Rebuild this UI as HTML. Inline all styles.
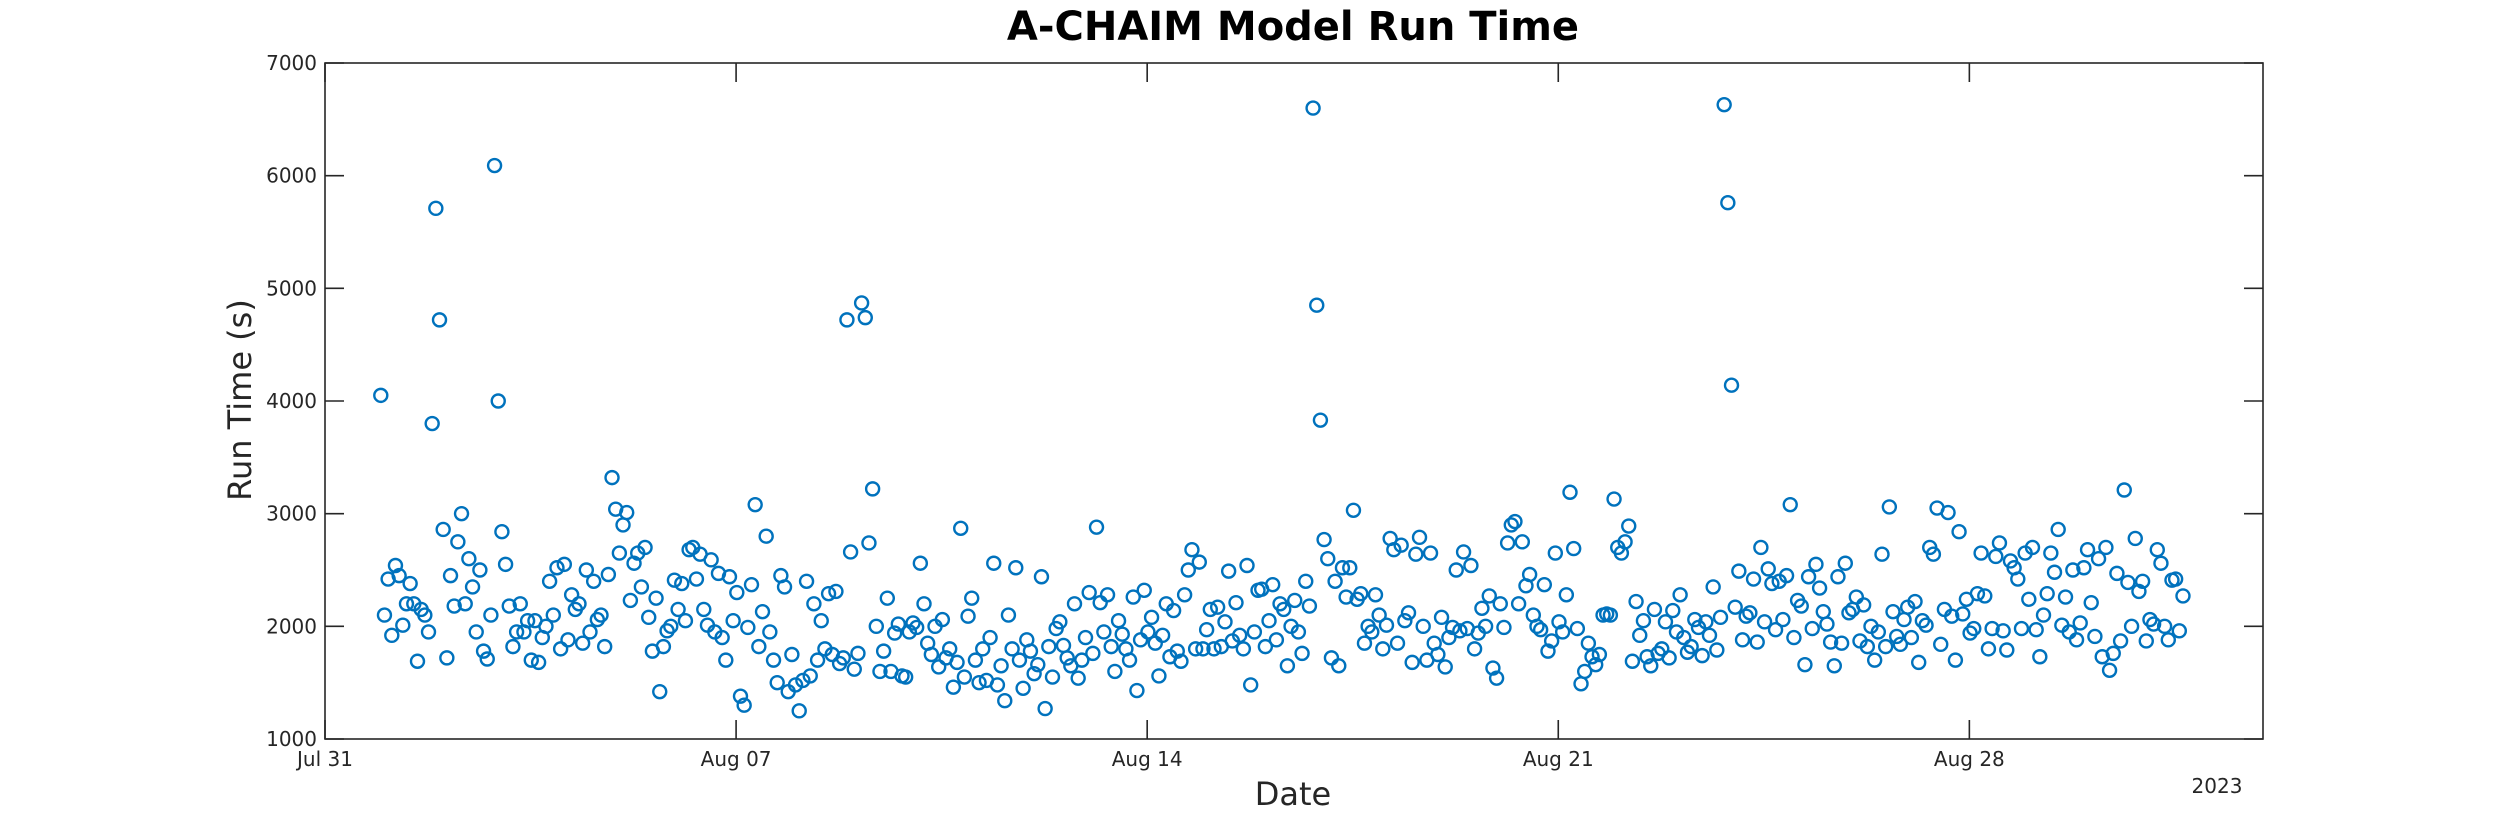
<!DOCTYPE html>
<html><head><meta charset="utf-8"><style>
html,body{margin:0;padding:0;background:#fff}
svg{display:block;font-family:"DejaVu Sans","Liberation Sans",sans-serif}
</style></head><body>
<svg id="chart" width="2500" height="833" viewBox="0 0 2500 833" xmlns="http://www.w3.org/2000/svg">
<rect width="2500" height="833" fill="#fff"/>
<text x="1293" y="40" text-anchor="middle" font-size="40" font-weight="bold" fill="#000">A-CHAIM Model Run Time</text>
<text transform="translate(251,400) rotate(-90)" text-anchor="middle" font-size="32" fill="#262626">Run Time (s)</text>
<text x="1293" y="805" text-anchor="middle" font-size="32" fill="#262626">Date</text>
<text x="2217" y="793" text-anchor="middle" font-size="20" fill="#262626">2023</text>
<g id="axes"></g>
<g id="points"></g>
<rect x="325" y="63" width="1938" height="676" fill="none" stroke="#262626" stroke-width="1.6"/>
</svg>
<script>
const yTicks=[1000,2000,3000,4000,5000,6000,7000];
const xTickDays=[0,7,14,21,28];
const xTickLabels=["Jul 31","Aug 07","Aug 14","Aug 21","Aug 28"];
const startDay=0.95;
const stepDays=0.0625;
const runTimes=[
4050,2100,2420,1920,2540,2450,2010,2200,2380,2200,1690,2150,2100,1950,3800,5710,
4720,2860,1720,2450,2180,2750,3000,2200,2600,2350,1950,2500,1780,1710,2100,6090,
4000,2840,2550,2180,1820,1950,2200,1950,2050,1700,2050,1680,1900,2000,2400,2100,
2520,1800,2550,1880,2280,2150,2200,1850,2500,1950,2400,2060,2100,1820,2460,3320,
3040,2650,2900,3010,2230,2560,2650,2350,2700,2080,1780,2250,1420,1820,1960,2000,
2410,2150,2380,2050,2680,2700,2420,2640,2150,2010,2590,1950,2470,1900,1700,2440,
2050,2300,1380,1300,1990,2370,3080,1820,2130,2800,1950,1700,1500,2450,2350,1420,
1750,1480,1250,1520,2400,1560,2200,1700,2050,1800,2290,1750,2310,1670,1720,4720,
2660,1620,1760,4870,4740,2740,3220,2000,1600,1780,2250,1600,1940,2020,1560,1550,
1950,2030,1990,2560,2200,1850,1750,2000,1640,2060,1720,1800,1460,1680,2870,1550,
2090,2250,1700,1500,1800,1520,1900,2560,1480,1650,1340,2100,1800,2520,1700,1450,
1880,1780,1580,1660,2440,1270,1820,1550,1980,2040,1830,1720,1650,2200,1540,1700,
1900,2300,1760,2880,2210,1950,2280,1820,1600,2050,1930,1800,1700,2260,1430,1880,
2320,1950,2080,1850,1560,1920,2200,1730,2140,1780,1690,2280,2500,2680,1800,2570,
1800,1970,2150,1800,2170,1820,2040,2490,1870,2210,1920,1800,2540,1480,1950,2320,
2330,1820,2050,2370,1880,2200,2150,1650,2000,2230,1950,1760,2400,2180,6600,4850,
3830,2770,2600,1720,2400,1650,2520,2260,2520,3030,2240,2290,1850,2000,1950,2280,
2100,1800,2010,2780,2680,1850,2720,2050,2120,1680,2640,2790,2000,1700,2650,1850,
1750,2080,1640,1900,1990,2500,1960,2660,1980,2540,1800,1940,2160,2000,2270,1630,
1540,2200,1990,2740,2900,2930,2200,2750,2360,2460,2100,2000,1970,2370,1780,1870,
2650,2040,1950,2280,3190,2690,1980,1490,1600,1850,1730,1660,1750,2100,2110,2100,
3130,2700,2650,2750,2890,1690,2220,1920,2050,1730,1650,2150,1760,1800,2040,1720,
2140,1950,2280,1900,1770,1820,2060,1990,1740,2040,1920,2350,1790,2080,6630,5760,
4140,2170,2490,1880,2090,2120,2420,1860,2700,2040,2510,2380,1970,2400,2060,2450,
3080,1900,2230,2180,1660,2440,1980,2550,2340,2130,2020,1860,1650,2440,1850,2560,
2120,2150,2260,1870,2190,1820,2000,1700,1950,2640,1820,3060,2130,1910,1840,2060,
2170,1900,2220,1680,2050,2010,2700,2640,3050,1840,2150,3010,2090,1700,2840,2110,
2240,1940,1980,2290,2650,2270,1800,1980,2620,2740,1960,1790,2580,2520,2420,1980,
2650,2240,2700,1970,1730,2100,2290,2650,2480,2860,2010,2260,1950,2500,1880,2030,
2520,2680,2210,1910,2600,1730,2700,1610,1760,2470,1870,3210,2390,2000,2780,2310,
2400,1870,2060,2020,2680,2560,2000,1880,2410,2420,1960,2270
];
const L=325,R=2263,T=63,B=739,D0=0,D1=33,V0=1000,V1=7000;
function xScale(d){return L+(d-D0)/(D1-D0)*(R-L);}
function yScale(v){return B-(v-V0)/(V1-V0)*(B-T);}
const NS="http://www.w3.org/2000/svg";
const axes=document.getElementById('axes');
const pts=document.getElementById('points');
yTicks.forEach(v=>{
  const y=yScale(v);
  const t=document.createElementNS(NS,'path');
  t.setAttribute('d',`M${L},${y}h19M${R},${y}h-19`);
  t.setAttribute('stroke','#262626');t.setAttribute('stroke-width','1.6');
  
  
  axes.appendChild(t);
  const lb=document.createElementNS(NS,'text');
  lb.setAttribute('x',L-8);lb.setAttribute('y',y+7);
  lb.setAttribute('text-anchor','end');lb.setAttribute('font-size','20');lb.setAttribute('fill','#262626');
  lb.textContent=v;
  
  
  axes.appendChild(lb);
});
xTickDays.forEach((d,i)=>{
  const x=xScale(d);
  const t=document.createElementNS(NS,'path');
  t.setAttribute('d',`M${x},${B}v-19M${x},${T}v19`);
  t.setAttribute('stroke','#262626');t.setAttribute('stroke-width','1.6');
  
  
  axes.appendChild(t);
  const lb=document.createElementNS(NS,'text');
  lb.setAttribute('x',x);lb.setAttribute('y',B+27);
  lb.setAttribute('text-anchor','middle');lb.setAttribute('font-size','20');lb.setAttribute('fill','#262626');
  lb.textContent=xTickLabels[i];
  
  
  axes.appendChild(lb);
});
runTimes.forEach((v,i)=>{
  const c=document.createElementNS(NS,'circle');
  c.setAttribute('cx',xScale(startDay+i*stepDays));
  c.setAttribute('cy',yScale(v));
  c.setAttribute('r','6.5');
  c.setAttribute('fill','none');c.setAttribute('stroke','#0072BD');c.setAttribute('stroke-width','2.4');
  
  
  pts.appendChild(c);
});
</script>
</body></html>
